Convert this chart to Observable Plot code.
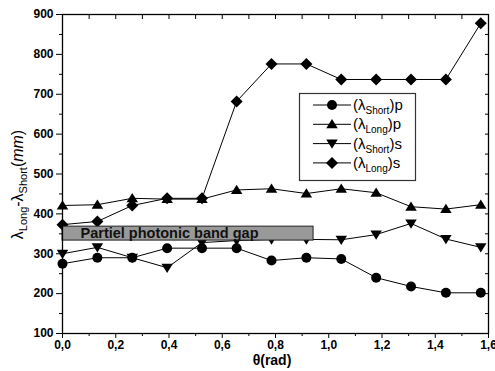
<!DOCTYPE html>
<html><head><meta charset="utf-8">
<script src="https://cdn.jsdelivr.net/npm/d3@7"></script>
<script src="https://cdn.jsdelivr.net/npm/@observablehq/plot@0.6"></script>
<style>
body{margin:0;background:#fff}
#chart{position:relative;width:495px;height:371px}
</style>
</head><body><div id="chart"></div>
<script>
// ---- data ----
const theta = [0, 0.131, 0.262, 0.393, 0.524, 0.654, 0.785, 0.916, 1.047, 1.178, 1.309, 1.440, 1.571];
const lambdaShortP = [275, 290, 290, 314, 314, 314, 283, 290, 287, 240, 218, 202, 202];
const lambdaLongP  = [421, 423, 439, 437, 437, 460, 463, 451, 463, 453, 418, 412, 423];
const lambdaShortS = [300, 316, 290, 265, 328, 333, 336, 336, 335, 348, 376, 337, 316];
const lambdaLongS  = [373, 381, 421, 439, 439, 682, 776, 776, 737, 737, 737, 737, 878];
const seriesKeys = ["Short", "Long", "Short", "Long"];
const seriesPol = ["p", "p", "s", "s"];
const bandTheta = [0, 0.943];
const bandLambda = [333, 368];
const bandLabel = "Partiel photonic band gap";
const xTicks = [0, 0.2, 0.4, 0.6, 0.8, 1.0, 1.2, 1.4, 1.6];
const xMinorTicks = [0.1, 0.3, 0.5, 0.7, 0.9, 1.1, 1.3, 1.5];
const xAllTicks = [0, 0.1, 0.2, 0.3, 0.4, 0.5, 0.6, 0.7, 0.8, 0.9, 1.0, 1.1, 1.2, 1.3, 1.4, 1.5, 1.6];
const yTicks = [100, 200, 300, 400, 500, 600, 700, 800, 900];
const yMinorTicks = [150, 250, 350, 450, 550, 650, 750, 850];
const yAllTicks = [100, 150, 200, 250, 300, 350, 400, 450, 500, 550, 600, 650, 700, 750, 800, 850, 900];

// ---- symbols ----
const triUp = {draw(ctx, size){const r=Math.sqrt(size/Math.PI);ctx.moveTo(0,-r*1.05);ctx.lineTo(r*1.15,r*0.8);ctx.lineTo(-r*1.15,r*0.8);ctx.closePath();}};
const triDown = {draw(ctx, size){const r=Math.sqrt(size/Math.PI);ctx.moveTo(0,r*1.05);ctx.lineTo(r*1.15,-r*0.8);ctx.lineTo(-r*1.15,-r*0.8);ctx.closePath();}};
const diamond = {draw(ctx, size){const r=Math.sqrt(size/Math.PI)*1.2;ctx.moveTo(0,-r);ctx.lineTo(r,0);ctx.lineTo(0,r);ctx.lineTo(-r,0);ctx.closePath();}};
const symbols = ["circle", triUp, triDown, diamond];
const allValues = [lambdaShortP, lambdaLongP, lambdaShortS, lambdaLongS];

const seriesRows = allValues.map(vals => theta.map((t, i) => ({theta: t, lambda: vals[i]})));

const fmt = d => d.toFixed(1).replace(".", ",");
const marks = [];
seriesRows.forEach((rows, k) => {
  marks.push(Plot.line(rows, {x: "theta", y: "lambda", stroke: "black", strokeWidth: 1}));
  marks.push(Plot.dot(rows, {x: "theta", y: "lambda", symbol: symbols[k], r: 5, fill: "black", stroke: "none"}));
});
marks.push(Plot.rect([{x1: bandTheta[0], x2: bandTheta[1], y1: bandLambda[0], y2: bandLambda[1]}],
  {x1: "x1", x2: "x2", y1: "y1", y2: "y2", fill: "#999999", stroke: "#222", strokeWidth: 1}));
marks.push(Plot.text([bandLabel], {x: () => bandTheta[0], y: () => (bandLambda[0] + bandLambda[1]) / 2, text: d => d,
  textAnchor: "start", dx: 18, fontSize: 14.5, fontWeight: "bold", fill: "#111"}));

const chart = Plot.plot({
  width: 495, height: 371,
  marginLeft: 62, marginRight: 7, marginTop: 14, marginBottom: 38,
  style: {fontFamily: "'Liberation Sans', Arial, sans-serif", background: "white", color: "black"},
  x: {domain: [0, 1.6]},
  y: {domain: [100, 900]},
  marks: [
    ...marks,
    Plot.frame({stroke: "black", strokeWidth: 1.3}),
    Plot.axisX(xTicks, {anchor: "bottom", tickSize: 5, tickPadding: 2, tickFormat: fmt, fontSize: 12, fontWeight: "bold", label: null}),
    Plot.axisX(xMinorTicks, {anchor: "bottom", tickSize: 3, tickFormat: () => "", label: null}),
    Plot.axisX(xAllTicks, {anchor: "top", tickSize: 4, insetTop: 4, tickFormat: () => "", label: null}),
    Plot.axisY(yTicks, {anchor: "left", tickSize: 6, tickPadding: 3, fontSize: 12, fontWeight: "bold", label: null}),
    Plot.axisY(yMinorTicks, {anchor: "left", tickSize: 3, tickFormat: () => "", label: null}),
    Plot.axisY(yAllTicks, {anchor: "right", tickSize: 4, insetRight: 4, tickFormat: () => "", label: null})
  ]
});
document.getElementById("chart").appendChild(chart);

// ---- axis titles and legend ----
const svg = d3.select(chart);
const xs = chart.scale("x"), ys = chart.scale("y");
const xMid = (xs.range[0] + xs.range[1]) / 2;
const yMid = (ys.range[0] + ys.range[1]) / 2;
svg.append("text").attr("x", xMid - 3).attr("y", 365).attr("text-anchor", "middle")
  .attr("font-family", "'Liberation Sans', Arial, sans-serif").attr("font-size", 14).attr("font-weight", "bold")
  .text("θ(rad)");

const yl = svg.append("text").attr("transform", `translate(23,${yMid + 11}) rotate(-90)`).attr("text-anchor", "middle")
  .attr("font-family", "'Liberation Sans', Arial, sans-serif").attr("font-size", 16);
yl.append("tspan").text("λ");
yl.append("tspan").attr("font-size", 11).attr("dy", 4).text("Long");
yl.append("tspan").attr("dy", -4).text("-λ");
yl.append("tspan").attr("font-size", 11).attr("dy", 4).text("Short");
yl.append("tspan").attr("dy", -4).text("(");
yl.append("tspan").attr("font-style", "italic").text("mm");
yl.append("tspan").text(")");

const lg = svg.append("g").attr("font-family", "'Liberation Sans', Arial, sans-serif").attr("text-anchor", "start");
lg.append("rect").attr("x", 299.5).attr("y", 93.5).attr("width", 116).attr("height", 87)
  .attr("fill", "white").attr("stroke", "#333").attr("stroke-width", 1.2);
const symPath = s => {
  const p = d3.path();
  const size = Math.PI * 25;
  if (s === "circle") { p.arc(0, 0, 5, 0, 2 * Math.PI); } else { s.draw(p, size); }
  return p.toString();
};
seriesKeys.forEach((key, k) => {
  const cy = 105 + k * 19.3;
  const g = lg.append("g");
  g.append("line").attr("x1", 313).attr("x2", 351).attr("y1", cy).attr("y2", cy).attr("stroke", "black");
  g.append("path").attr("d", symPath(symbols[k])).attr("transform", `translate(332,${cy})`).attr("fill", "black");
  const t = g.append("text").attr("x", 353).attr("y", cy + 5).attr("font-size", 15).attr("text-anchor", "start");
  t.append("tspan").text("(λ");
  t.append("tspan").attr("font-size", 10).attr("dy", 4).text(key);
  t.append("tspan").attr("dy", -4).text(")" + seriesPol[k]);
});
</script>
</body></html>
